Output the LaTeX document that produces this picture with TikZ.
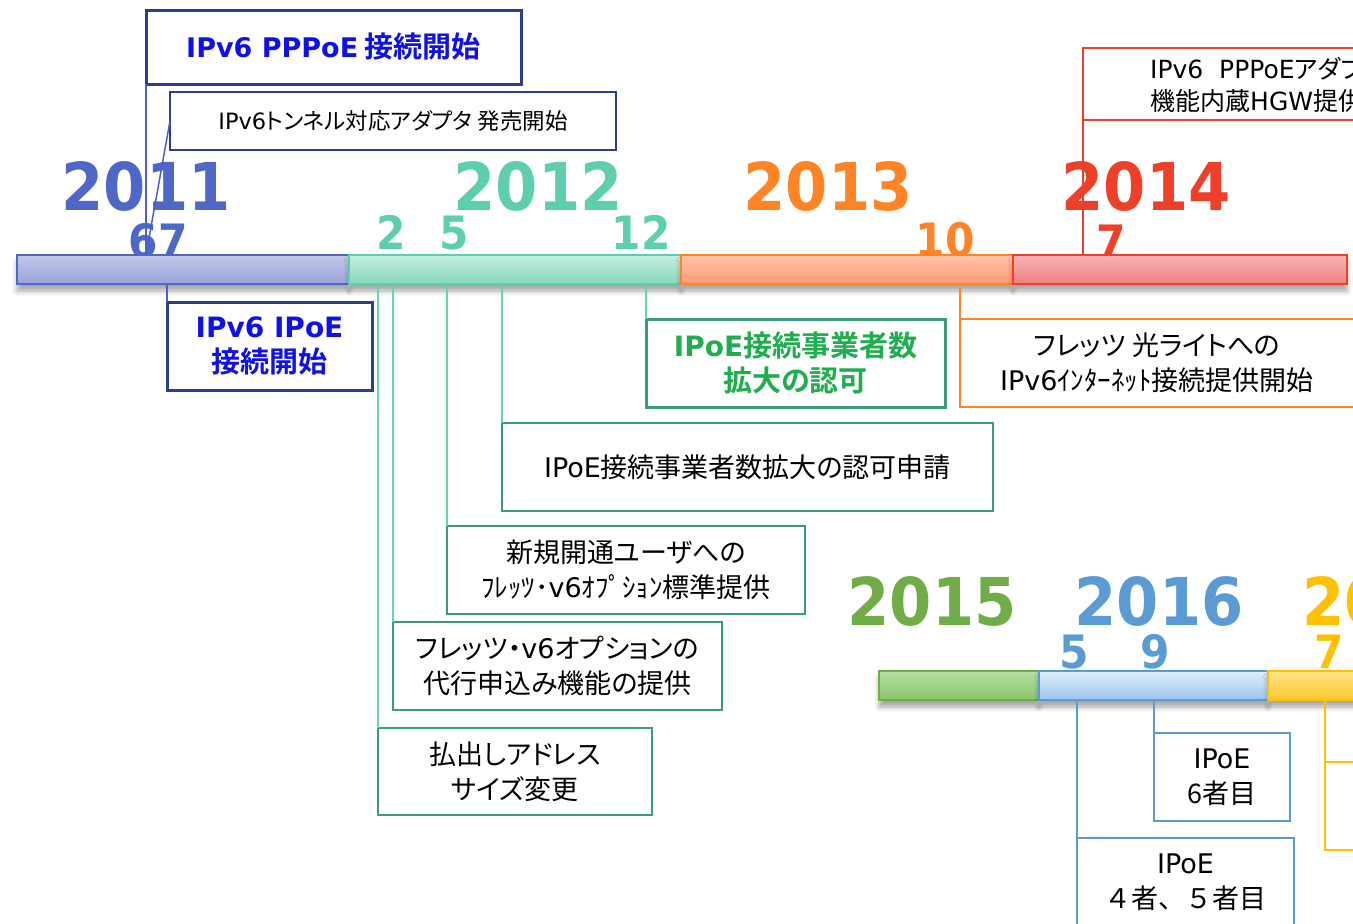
\documentclass[tikz,border=0pt]{standalone}
\usepackage{fontspec}
\setmainfont{Noto Sans CJK JP}[BoldFont={Noto Sans CJK JP Bold},RawFeature=+palt]
\newfontfamily\jpnopalt{Noto Sans CJK JP}
\newfontfamily\yearfont{DejaVu Sans Bold}[FakeStretch=0.92]
\newfontfamily\latfont{DejaVu Sans}
\newfontfamily\latbfont{DejaVu Sans Bold}
\newcommand\mylat[1]{{\latfont #1}}
\newcommand\mylatb[1]{{\latbfont #1}}
\usetikzlibrary{shadows.blur}
\definecolor{c11}{HTML}{4F68C8}
\definecolor{c12}{HTML}{5DCFAE}
\definecolor{c13}{HTML}{FF8426}
\definecolor{c14}{HTML}{EE4028}
\definecolor{c15}{HTML}{70AD47}
\definecolor{c16}{HTML}{5B9BD5}
\definecolor{c17}{HTML}{FFC000}
\definecolor{navy}{HTML}{2E3E8E}
\definecolor{lnavy}{HTML}{4A60C4}
\definecolor{vblue}{HTML}{1010E8}
\definecolor{gbox}{HTML}{3A9C7C}
\definecolor{gtext}{HTML}{1FAE4F}
\definecolor{tline}{HTML}{6BD3B5}
\tikzset{
  yr/.style={font=\yearfont\fontsize{66}{66}\selectfont, anchor=base, inner sep=0pt},
  mo/.style={font=\yearfont\fontsize{46}{46}\selectfont, anchor=base, inner sep=0pt},
  bar/.style={draw, line width=1.6pt, anchor=north west, inner sep=0pt, outer sep=0pt,
    minimum height=29pt,
    blur shadow={shadow xshift=0pt, shadow yshift=-7pt, shadow opacity=35, shadow blur radius=5pt}},
  ev/.style={draw, line width=1.8pt, fill=white, anchor=north west, align=center,
    inner sep=0pt, outer sep=0pt, font=\fontsize{27}{35}\selectfont},
  evb/.style={ev, line width=3pt, font=\bfseries\fontsize{29}{35}\selectfont},
  link/.style={line width=1.5pt}
}
\begin{document}
\begin{tikzpicture}[x=1pt,y=-1pt]
\useasboundingbox (0,0) rectangle (1353,924);
\clip (0,0) rectangle (1353,924);
% years
\node[yr, text=c11] (y11) at (146,210) {2011};
\node[yr, text=c12] (y12) at (538,210) {2012};
\node[yr, text=c13] (y13) at (828,210) {2013};
\node[yr, text=c14] (y14) at (1146,210) {2014};
\node[yr, text=c15] (y15) at (932,625) {2015};
\node[yr, text=c16] (y16) at (1159,625) {2016};
\node[yr, text=c17, anchor=base west] (y17) at (1302,625) {2017};
% months
\node[mo, text=c11] (m11) at (158,257) {67};
\node[mo, text=c12] (m12a) at (391,249) {2};
\node[mo, text=c12] (m12b) at (454,249) {5};
\node[mo, text=c12] (m12c) at (641,249) {12};
\node[mo, text=c13] (m13) at (945,256) {10};
\node[mo, text=c14] (m14) at (1111,258) {7};
\node[mo, text=c16] (m16a) at (1074,668) {5};
\node[mo, text=c16] (m16b) at (1155,668) {9};
\node[mo, text=c17] (m17) at (1329,668) {7};
% bars
\node[bar, draw=c11, top color={rgb,255:red,195;green,200;blue,234}, bottom color={rgb,255:red,154;green,163;blue,217}, minimum width=332pt] (b11) at (17,255) {};
\node[bar, draw=c12, top color={rgb,255:red,198;green,238;blue,223}, bottom color={rgb,255:red,134;green,216;blue,188}, minimum width=332pt] (b12) at (349,255) {};
\node[bar, draw=c13, top color={rgb,255:red,255;green,196;blue,172}, bottom color={rgb,255:red,255;green,154;blue,114}, minimum width=332pt] (b13) at (681,255) {};
\node[bar, draw=c14, top color={rgb,255:red,249;green,180;blue,180}, bottom color={rgb,255:red,238;green,128;blue,128}, minimum width=334pt] (b14) at (1013,255) {};
\node[bar, draw=c15, top color={rgb,255:red,184;green,222;blue,164}, bottom color={rgb,255:red,136;green,198;blue,106}, minimum width=160pt] (b15) at (879,671) {};
\node[bar, draw=c16, top color={rgb,255:red,222;green,238;blue,250}, bottom color={rgb,255:red,156;green,196;blue,236}, minimum width=229pt] (b16) at (1039,671) {};
\node[bar, draw=c17, top color={rgb,255:red,255;green,227;blue,138}, bottom color={rgb,255:red,255;green,199;blue,42}, minimum width=120pt] (b17) at (1268,671) {};
% event boxes
\node[evb, draw=navy, text=vblue, minimum width=375pt, minimum height=74pt] (e1) at (146,10) {\mylatb{\fontsize{27}{35}\selectfont IPv6 PPPoE} 接続開始};
\node[ev, draw=navy, line width=1.5pt, minimum width=446pt, minimum height=58pt, font=\fontsize{22.5}{26}\selectfont] (e2) at (170,92) {\mylat{IPv6}トンネル対応アダプタ 発売開始};
\node[evb, draw=navy, text=vblue, minimum width=205pt, minimum height=88pt] (e3) at (167,302) {\mylatb{\fontsize{28}{35}\selectfont IPv6 IPoE}\\接続開始};
\node[evb, draw=gbox, text=gtext, minimum width=299pt, minimum height=88pt] (e4) at (646,319) {\mylatb{\fontsize{28}{35}\selectfont IPoE}接続事業者数\\拡大の認可};
\node[ev, draw=gbox, minimum width=491pt, minimum height=88pt] (e5) at (502,423) {\mylat{IPoE}接続事業者数拡大の認可申請};
\node[ev, draw=gbox, minimum width=358pt, minimum height=88pt] (e6) at (447,526) {新規開通ユーザへの\\ﾌﾚｯﾂ･\mylat{v6}ｵﾌﾟｼｮﾝ標準提供};
\node[ev, draw=gbox, minimum width=329pt, minimum height=88pt] (e7) at (393,622) {フレッツ・\mylat{v6}オプションの\\代行申込み機能の提供};
\node[ev, draw=gbox, minimum width=274pt, minimum height=87pt] (e8) at (378,728) {払出しアドレス\\サイズ変更};
\node[ev, draw=c13, minimum width=394pt, minimum height=88pt] (e9) at (960,319) {フレッツ 光ライトへの\\\mylat{IPv6}ｲﾝﾀｰﾈｯﾄ接続提供開始};
\node[ev, draw=c14, minimum width=330pt, minimum height=72pt] (e10) at (1083,48) {};
\node[anchor=base west, align=left, inner sep=0pt, font=\fontsize{25}{32}\selectfont] (e10t) at (1150,110) {\mylat{IPv6\ \ PPPoE}アダプタ\\機能内蔵\mylat{HGW}提供};
\node[ev, draw=c16, line width=2.4pt, minimum width=136pt, minimum height=88pt] (e11) at (1154,733) {\mylat{IPoE}\\6者目};
\node[ev, draw=c16, line width=2.4pt, minimum width=217pt, minimum height=88pt, font=\jpnopalt\fontsize{27}{35}\selectfont] (e12) at (1077,838) {\mylat{IPoE}\\４者、５者目};
\node[ev, draw=c17, line width=2.4pt, minimum width=100pt, minimum height=88pt] (e13) at (1325,762) {};
% anchor points on the bars
\coordinate (p1) at (146,255);
\coordinate (p2) at (146,255);
\coordinate (p3) at (167,285);
\coordinate (q1) at (378,285);
\coordinate (q2) at (393,285);
\coordinate (q3) at (447,285);
\coordinate (q4) at (502,285);
\coordinate (q5) at (646,285);
\coordinate (r1) at (960,288);
\coordinate (s1) at (1083,255);
\coordinate (t1) at (1077,701);
\coordinate (t2) at (1154,701);
\coordinate (u1) at (1325,701);
% connectors
\draw[link, lnavy] (e1.south west) -- (p1);
\draw[link, lnavy] (e2.west) -- (p2);
\draw[link, lnavy] (p3) -- (e3.north west);
\draw[link, tline] (q1) -- (e8.north west);
\draw[link, tline] (q2) -- (e7.north west);
\draw[link, tline] (q3) -- (e6.north west);
\draw[link, tline] (q4) -- (e5.north west);
\draw[link, tline] (q5) -- (e4.north west);
\draw[link, c13] (r1) -- (e9.north west);
\draw[link, c14] (e10.south west) -- (s1);
\draw[link, c16, line width=2pt] (t1) -- (e12.north west);
\draw[link, c16, line width=2pt] (t2) -- (e11.north west);
\draw[link, c17, line width=2pt] (u1) -- (e13.north west);
\end{tikzpicture}
\end{document}
